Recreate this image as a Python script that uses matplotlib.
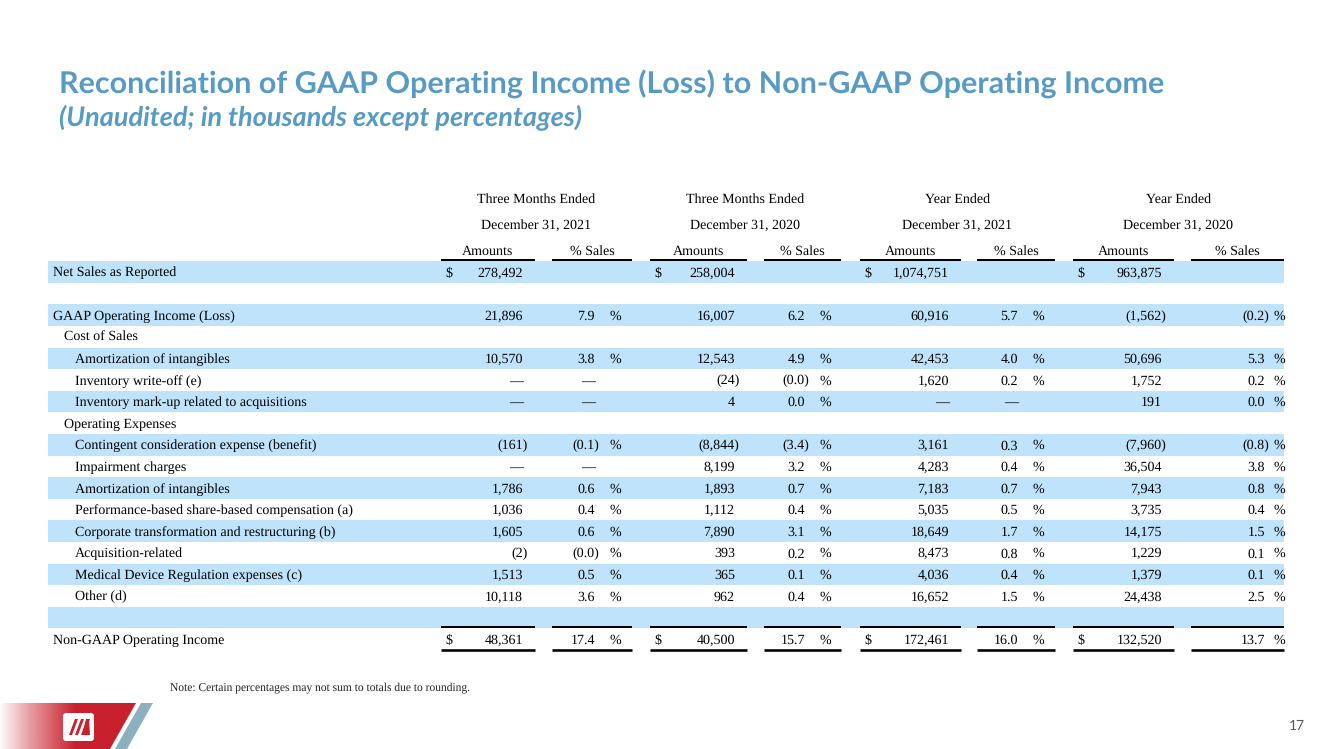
import math
import numpy as np
import matplotlib
matplotlib.use("Agg")
import matplotlib.pyplot as plt
from matplotlib.patches import Rectangle, Polygon, FancyBboxPatch

plt.rcParams["text.hinting"] = "no_hinting"

# ---------------- data ----------------
title = "Reconciliation of GAAP Operating Income (Loss) to Non-GAAP Operating Income"
subtitle = "(Unaudited; in thousands except percentages)"
period_top = ["Three Months Ended", "Three Months Ended", "Year Ended", "Year Ended"]
period_date = ["December 31, 2021", "December 31, 2020", "December 31, 2021", "December 31, 2020"]
sub_headers = ["Amounts", "% Sales"]
note = "Note: Certain percentages may not sum to totals due to rounding."
page_number = "17"

row_labels = [
    "Net Sales as Reported", "", "GAAP Operating Income (Loss)", "Cost of Sales",
    "Amortization of intangibles", "Inventory write-off (e)",
    "Inventory mark-up related to acquisitions", "Operating Expenses",
    "Contingent consideration expense (benefit)", "Impairment charges",
    "Amortization of intangibles", "Performance-based share-based compensation (a)",
    "Corporate transformation and restructuring (b)", "Acquisition-related",
    "Medical Device Regulation expenses (c)", "Other (d)", "", "Non-GAAP Operating Income",
]
row_indent = [0, 0, 0, 1, 2, 2, 2, 1, 2, 2, 2, 2, 2, 2, 2, 2, 0, 0]
dollar_rows = [0, 17]

B = None          # blank cell
D = float("nan")  # em-dash cell

q4_2021_amt = [278492, B, 21896, B, 10570, D, D, B, -161, D, 1786, 1036, 1605, -2, 1513, 10118, B, 48361]
q4_2021_pct = [B, B, 7.9, B, 3.8, D, D, B, -0.1, D, 0.6, 0.4, 0.6, -0.0, 0.5, 3.6, B, 17.4]
q4_2020_amt = [258004, B, 16007, B, 12543, -24, 4, B, -8844, 8199, 1893, 1112, 7890, 393, 365, 962, B, 40500]
q4_2020_pct = [B, B, 6.2, B, 4.9, -0.0, 0.0, B, -3.4, 3.2, 0.7, 0.4, 3.1, 0.2, 0.1, 0.4, B, 15.7]
fy_2021_amt = [1074751, B, 60916, B, 42453, 1620, D, B, 3161, 4283, 7183, 5035, 18649, 8473, 4036, 16652, B, 172461]
fy_2021_pct = [B, B, 5.7, B, 4.0, 0.2, D, B, 0.3, 0.4, 0.7, 0.5, 1.7, 0.8, 0.4, 1.5, B, 16.0]
fy_2020_amt = [963875, B, -1562, B, 50696, 1752, 191, B, -7960, 36504, 7943, 3735, 14175, 1229, 1379, 24438, B, 132520]
fy_2020_pct = [B, B, -0.2, B, 5.3, 0.2, 0.0, B, -0.8, 3.8, 0.8, 0.4, 1.5, 0.1, 0.1, 2.5, B, 13.7]

amounts = [q4_2021_amt, q4_2020_amt, fy_2021_amt, fy_2020_amt]
percents = [q4_2021_pct, q4_2020_pct, fy_2021_pct, fy_2020_pct]

# ---------------- layout (pixels) ----------------
W, H = 1333, 749
fig = plt.figure(figsize=(W / 100, H / 100), dpi=100)
ax = fig.add_axes([0, 0, 1, 1])
ax.set_xlim(0, W)
ax.set_ylim(H, 0)
ax.axis("off")

BLUE = "#579BC5"
BAND = "#BEE3FA"
SERIF = "Liberation Serif"
SANS = ["Lato", "DejaVu Sans"]
PX = 0.72  # points per pixel

# underline spans: (amount left, amount right, pct left, pct right)
groups = [(441, 535, 552, 632), (650, 747, 764, 841), (860, 961, 977, 1055), (1073, 1174, 1191, 1284)]
pct_digit_x = [595, 805, 1018, 1265]
pct_sign_x = [615, 825, 1038, 1279]
amt_digit_x = [g[1] - 12 for g in groups]
dollar_x = [g[0] + 4 for g in groups]
paren_w = 4.5

row0_y = 272.0
pitch = 21.6
band_x0, band_x1 = 48, 1284
fs = 10.1

renderer = fig.canvas.get_renderer()


def fit_text(x, y, s, target_w, **kw):
    t = ax.text(x, y, s, **kw)
    w = t.get_window_extent(renderer).width
    t.set_fontsize(t.get_fontsize() * target_w / w)
    return t


# title / subtitle
fit_text(59, 93, title, 1104, fontsize=20, fontweight="bold", color=BLUE,
         family=SANS, ha="left", va="baseline")
fit_text(59, 126, subtitle, 524, fontsize=16, fontweight="bold", style="italic",
         color=BLUE, family=SANS, ha="left", va="baseline")

# bands
n_rows = len(row_labels)
for i in range(n_rows):
    yc = row0_y + i * pitch
    if i % 2 == 0:
        ax.add_patch(Rectangle((band_x0, yc - pitch / 2), band_x1 - band_x0, pitch,
                               facecolor=BAND, edgecolor="none", zorder=1))

# headers
for g, (al, ar, pl, pr) in enumerate(groups):
    cx = (al + pr) / 2
    ax.text(cx, 203, period_top[g], family=SERIF, fontsize=fs, ha="center", va="baseline", zorder=3)
    ax.text(cx, 229, period_date[g], family=SERIF, fontsize=fs, ha="center", va="baseline", zorder=3)
    ax.text((al + ar) / 2, 255, sub_headers[0], family=SERIF, fontsize=fs, ha="center", va="baseline", zorder=3)
    ax.text((pl + pr) / 2, 255, sub_headers[1], family=SERIF, fontsize=fs, ha="center", va="baseline", zorder=3)
    for (x0, x1) in [(al, ar), (pl, pr)]:
        ax.plot([x0, x1], [259.5, 259.5], color="black", lw=2 * PX, solid_capstyle="butt", zorder=3)
        ax.plot([x0, x1], [627, 627], color="black", lw=2 * PX, solid_capstyle="butt", zorder=3)
        ax.plot([x0, x1], [649.5, 649.5], color="black", lw=2.6 * PX, solid_capstyle="butt", zorder=3)


def fmt(v, decimals):
    if v is None:
        return None
    if isinstance(v, float) and math.isnan(v):
        return "\u2014"
    neg = v < 0 or (v == 0 and math.copysign(1, v) < 0)
    s = f"{abs(v):,.{decimals}f}"
    return f"({s})" if neg else s


indent_x = [53, 64, 75]
for i in range(n_rows):
    yb = row0_y + i * pitch + 4.5
    if row_labels[i]:
        ax.text(indent_x[row_indent[i]], yb, row_labels[i], family=SERIF, fontsize=fs,
                ha="left", va="baseline", zorder=3)
    for g in range(4):
        a = fmt(amounts[g][i], 0)
        if a is not None:
            x = amt_digit_x[g] + (paren_w if a.endswith(")") else 0)
            ax.text(x, yb, a, family=SERIF, fontsize=fs, ha="right", va="baseline", zorder=3)
            if i in dollar_rows:
                ax.text(dollar_x[g], yb, "$", family=SERIF, fontsize=fs, ha="left", va="baseline", zorder=3)
        p = fmt(percents[g][i], 1)
        if p is not None:
            x = pct_digit_x[g] + (paren_w if p.endswith(")") else 0)
            ax.text(x, yb, p, family=SERIF, fontsize=fs, ha="right", va="baseline", zorder=3)
            if p != "\u2014":
                ax.text(pct_sign_x[g], yb, "%", family=SERIF, fontsize=fs, ha="center", va="baseline", zorder=3)

# note
ax.text(170, 690, note, family=SERIF, fontsize=8.3, ha="left", va="baseline", color="#222222")

# page number
ax.text(1297, 726, page_number, family=SANS, fontsize=10, ha="center", va="center", color="#595959")

# logo band: red gradient with slanted edge
RED = np.array([200, 32, 45]) / 255.0
grad = np.zeros((2, 256, 4))
xs = np.linspace(0, 1, 256)
alpha = np.clip(xs / 0.55, 0, 1) ** 0.9
grad[..., 0:3] = RED
grad[..., 3] = alpha
img = ax.imshow(grad, extent=(0, 137, 749, 703), aspect="auto", zorder=2, interpolation="bilinear")
clip = Polygon([(0, 703), (136, 703), (110, 749), (0, 749)], closed=True, transform=ax.transData)
img.set_clip_path(clip)
ax.set_xlim(0, W)
ax.set_ylim(H, 0)
ax.add_patch(Polygon([(141, 703), (153, 703), (127, 749), (115, 749)], closed=True,
                     facecolor="#8DB0BE", edgecolor="none", zorder=2))
# white logo tile with red marks
ax.add_patch(FancyBboxPatch((63, 713), 31, 28, boxstyle="round,pad=0,rounding_size=3",
                            facecolor="white", edgecolor="none", zorder=3))
for k in range(3):
    x0 = 69 + k * 6
    ax.add_patch(Polygon([(x0 + 6, 719), (x0 + 9, 719), (x0 + 3, 735), (x0, 735)], closed=True,
                         facecolor="#C8202D", edgecolor="none", zorder=4))
ax.add_patch(Polygon([(86, 719), (89, 719), (90, 735), (82, 735)], closed=True,
                     facecolor="#C8202D", edgecolor="none", zorder=4))

fig.savefig("out.png", dpi=100)
